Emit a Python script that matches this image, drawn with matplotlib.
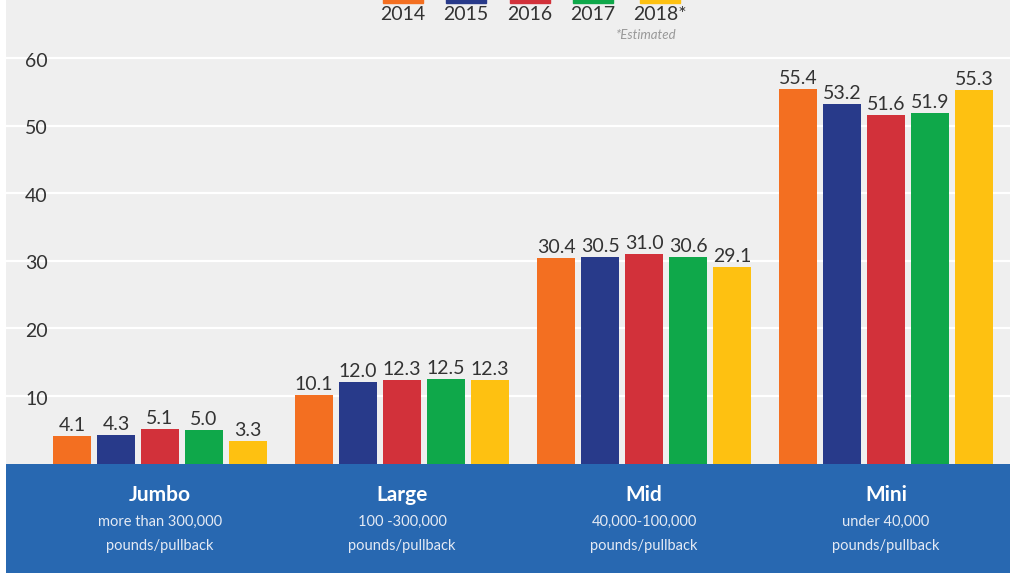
import numpy as np
from matplotlib import pyplot as plt
from matplotlib.patches import Rectangle

plt.rcParams["font.family"] = ["Liberation Sans Narrow", "Lato", "DejaVu Sans"]

categories = ["Jumbo", "Large", "Mid", "Mini"]
subtitles = ["more than 300,000\npounds/pullback", "100 -300,000\npounds/pullback",
             "40,000-100,000\npounds/pullback", "under 40,000\npounds/pullback"]
years = ["2014", "2015", "2016", "2017", "2018*"]
values = {
    "2014": [4.1, 10.1, 30.4, 55.4],
    "2015": [4.3, 12.0, 30.5, 53.2],
    "2016": [5.1, 12.3, 31.0, 51.6],
    "2017": [5.0, 12.5, 30.6, 51.9],
    "2018*": [3.3, 12.3, 29.1, 55.3],
}
colors = ["#F36F21", "#283A8A", "#D2313A", "#0FA84A", "#FEC111"]
yticks = [10, 20, 30, 40, 50, 60]

W, H = 1010, 573
fig = plt.figure(figsize=(W / 100, H / 100), dpi=100, facecolor="white")

# plot area: gray panel, zero sits on top of the blue band
band_top = 463.6
ax = fig.add_axes([6 / W, 1 - band_top / H, 1 - 6 / W, band_top / H])
ax.set_facecolor("#EFEFEF")
ax.set_xlim(-0.636, 3.512)
ax.set_ylim(0, band_top / 6.76)
for s in ax.spines.values():
    s.set_visible(False)
ax.set_xticks([])
ax.set_yticks([])

for t in yticks:
    ax.axhline(t, color="white", lw=1.6, zorder=1)
    ax.text(0.019, t - 0.45, str(t), transform=ax.get_yaxis_transform(),
            ha="left", va="center", fontsize=14, color="#333333")

x = np.arange(len(categories))
width = 38 / 242
step = 44 / 242
for i, yr in enumerate(years):
    xs = x + (i - 2) * step
    ax.bar(xs, values[yr], width=width, color=colors[i], zorder=2)
    for xi, v in zip(xs, values[yr]):
        ax.text(xi, v + 0.3, f"{v:.1f}", ha="center", va="bottom",
                fontsize=14, color="#333333", zorder=3)

# blue category band
band = fig.add_axes([6 / W, 0, 1 - 6 / W, 1 - band_top / H])
band.set_facecolor("#2868B1")
band.set_xlim(ax.get_xlim())
band.set_ylim(0, 1)
band.axis("off")
band.add_patch(Rectangle((0, 0), 1, 1, transform=band.transAxes,
                         color="#2868B1", zorder=0))
for xi, name, sub in zip(x, categories, subtitles):
    band.text(xi, 0.71, name, ha="center", va="center", fontsize=15,
              fontweight="bold", color="white")
    band.text(xi, 0.355, sub, ha="center", va="center", fontsize=10.5,
              color="#E4EAF4", linespacing=1.9)

# legend across the top
sw_left = [383, 446, 510, 573, 640]
text_x = [403, 466, 530, 593, 660]
for i, yr in enumerate(years):
    fig.patches.append(Rectangle((sw_left[i] / W, 1 - 2.5 / H), 40 / W, 10 / H,
                                 transform=fig.transFigure, color=colors[i]))
    fig.text(text_x[i] / W, 1 - 14 / H, yr, ha="center", va="center",
             fontsize=14, color="#333333")
fig.text(646 / W, 1 - 35 / H, "*Estimated", ha="center", va="center",
         fontsize=9.5, style="italic", color="#999999")

fig.savefig("out.png", dpi=100, facecolor="white")
